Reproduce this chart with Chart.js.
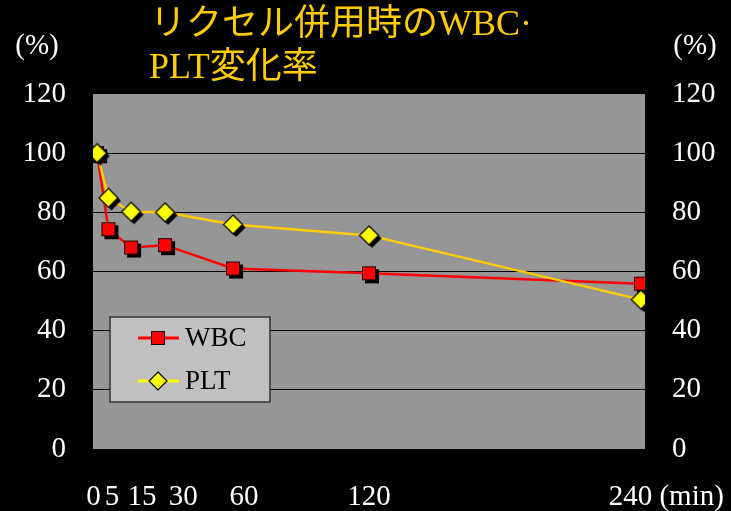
<!DOCTYPE html>
<html>
<head>
<meta charset="utf-8">
<script src="https://cdn.jsdelivr.net/npm/chart.js@4.4.0/dist/chart.umd.min.js"></script>
<style>
html, body { margin: 0; padding: 0; background: #000; }
#wrap { width: 731px; height: 511px; }
</style>
</head>
<body>
<div id="wrap"><canvas id="chart" width="731" height="511"></canvas></div>
<script>
// data
var minutes = [0, 5, 15, 30, 60, 120, 240];
var wbc = [100, 74.3, 68.1, 68.9, 61.0, 59.4, 55.9];
var plt = [100, 84.9, 80.2, 80.0, 75.9, 72.2, 50.5];
var seriesNames = ["WBC", "PLT"];
var yTicks = [0, 20, 40, 60, 80, 100, 120];
var xTickLabels = ["0", "5", "15", "30", "60", "120", "240 (min)"];
var titleLines = ["リクセル併用時のWBC·", "PLT変化率"];
var unitLabel = "(%)";

// label nudges (px) so the x labels sit like the original text row
var xLabelShift = [-3, 4, 11, 18, 9, 0, 24];
var SERIF = "'Liberation Serif', 'Times New Roman', serif";

function padLabel(txt, shift) {
  var n = Math.round(Math.abs(shift) / 3.6);
  var sp = new Array(n + 1).join(" ");
  return shift >= 0 ? sp + txt : txt + sp;
}

///Markers with a drop shadow
function squareMarker(size, off, fill, edge) {
  var c = document.createElement("canvas");
  var s = size + 2 * off + 2;
  c.width = s;
  c.height = s;
  var g = c.getContext("2d");
  var o = (s - size) / 2;
  g.fillStyle = "#000";
  g.fillRect(o + off, o + off, size, size);
  g.fillStyle = fill;
  g.fillRect(o, o, size, size);
  g.strokeStyle = edge;
  g.lineWidth = 1;
  g.strokeRect(o + 0.5, o + 0.5, size - 1, size - 1);
  return c;
}

function diamondPath(g, cx, cy, r) {
  g.beginPath();
  g.moveTo(cx, cy - r);
  g.lineTo(cx + r, cy);
  g.lineTo(cx, cy + r);
  g.lineTo(cx - r, cy);
  g.closePath();
}

function diamondMarker(r, off, fill, edge) {
  var c = document.createElement("canvas");
  var s = Math.ceil(2 * (r + off) + 2);
  c.width = s;
  c.height = s;
  var g = c.getContext("2d");
  var m = s / 2;
  g.fillStyle = "#000";
  diamondPath(g, m + off, m + off, r);
  g.fill();
  g.fillStyle = fill;
  diamondPath(g, m, m, r);
  g.fill();
  g.strokeStyle = edge;
  g.lineWidth = 1.2;
  g.stroke();
  return c;
}

var wbcMark = squareMarker(14, 3, "#FF0000", "#200000");
var pltMark = diamondMarker(9.5, 3, "#FFFF00", "#000");

///Background, title, units and legend
var decor = {
  id: "decor",
  beforeDraw: function (chart) {
    var ctx = chart.ctx;
    var a = chart.chartArea;
    ctx.save();
    ctx.fillStyle = "#000";
    ctx.fillRect(0, 0, chart.width, chart.height);
    ctx.fillStyle = "#969696";
    ctx.fillRect(a.left, a.top, a.right - a.left, a.bottom - a.top);
    ctx.restore();
  },
  afterDraw: function (chart) {
    var ctx = chart.ctx;
    var a = chart.chartArea;
    ctx.save();

    // title
    ctx.fillStyle = "#FFCC00";
    ctx.font = "36px " + SERIF + ", 'Noto Sans CJK JP'";
    ctx.textAlign = "left";
    ctx.textBaseline = "middle";
    ctx.fillText(titleLines[0], 150, 26);
    ctx.fillText(titleLines[1], 149, 69);

    // (%) above both axes
    ctx.fillStyle = "#fff";
    ctx.font = "29px " + SERIF;
    ctx.textAlign = "center";
    ctx.fillText(unitLabel, 37, 46);
    ctx.fillText(unitLabel, 695, 46);

    // legend box
    var bx = a.left + 17, by = a.top + 223, bw = 160, bh = 85;
    ctx.fillStyle = "#C0C0C0";
    ctx.fillRect(bx, by, bw, bh);
    ctx.strokeStyle = "#333";
    ctx.lineWidth = 1.5;
    ctx.strokeRect(bx, by, bw, bh);

    var rows = [by + 21, by + 64];
    chart.data.datasets.forEach(function (ds, i) {
      var y = rows[i];
      ctx.strokeStyle = i === 0 ? "#FF0000" : "#FFFF00";
      ctx.lineWidth = 3;
      ctx.beginPath();
      ctx.moveTo(bx + 28, y);
      ctx.lineTo(bx + 69, y);
      ctx.stroke();
      var cx = bx + 48;
      if (i === 0) {
        ctx.fillStyle = "#FF0000";
        ctx.fillRect(cx - 7, y - 7, 14, 14);
        ctx.strokeStyle = "#200000";
        ctx.lineWidth = 1;
        ctx.strokeRect(cx - 6.5, y - 6.5, 13, 13);
      } else {
        ctx.fillStyle = "#FFFF00";
        diamondPath(ctx, cx, y, 9);
        ctx.fill();
        ctx.strokeStyle = "#000";
        ctx.lineWidth = 1.2;
        ctx.stroke();
      }
      ctx.fillStyle = "#000";
      ctx.font = "27px " + SERIF;
      ctx.textAlign = "left";
      ctx.textBaseline = "middle";
      ctx.fillText(ds.label, bx + 75, y + 1);
    });
    ctx.restore();
  },
};

function toPoints(vals) {
  return minutes.map(function (m, i) {
    return { x: m, y: vals[i] };
  });
}

var tickFont = { family: SERIF, size: 29 };

var mychart = new Chart(document.getElementById("chart"), {
  type: "line",
  data: {
    datasets: [
      {
        label: seriesNames[0],
        data: toPoints(wbc),
        borderColor: "#FF0000",
        borderWidth: 2.5,
        pointStyle: wbcMark,
        pointRadius: 8,
        tension: 0,
        order: 1,
      },
      {
        label: seriesNames[1],
        data: toPoints(plt),
        borderColor: "#FFCC00",
        borderWidth: 2.5,
        pointStyle: pltMark,
        pointRadius: 9,
        tension: 0,
        order: 0,
      },
    ],
  },
  options: {
    responsive: false,
    animation: false,
    layout: { padding: { top: 94, left: 0, right: 0, bottom: 0 } },
    plugins: {
      legend: { display: false },
      tooltip: { enabled: false },
    },
    scales: {
      x: {
        type: "linear",
        min: -1.8,
        max: 241.8,
        afterBuildTicks: function (s) {
          s.ticks = minutes.map(function (v) {
            return { value: v };
          });
        },
        afterFit: function (s) {
          s.height = 62;
          s.paddingLeft = 0;
          s.paddingRight = 0;
        },
        grid: { display: false },
        border: { display: false },
        ticks: {
          color: "#fff",
          font: tickFont,
          padding: 23,
          autoSkip: false,
          maxRotation: 0,
          minRotation: 0,
          callback: function (v, i) {
            return padLabel(xTickLabels[i], xLabelShift[i]);
          },
        },
      },
      y: {
        position: "left",
        min: 0,
        max: 120,
        afterBuildTicks: function (s) {
          s.ticks = yTicks.map(function (v) {
            return { value: v };
          });
        },
        afterFit: function (s) {
          s.width = 93;
        },
        grid: {
          drawTicks: false,
          lineWidth: 1,
          color: function (c) {
            var v = c.tick ? c.tick.value : 0;
            return v === 0 || v === 120 ? "rgba(0,0,0,0)" : "#000";
          },
        },
        border: { display: false },
        ticks: { color: "#fff", font: tickFont, padding: 27 },
      },
      y2: {
        position: "right",
        min: 0,
        max: 120,
        afterBuildTicks: function (s) {
          s.ticks = yTicks.map(function (v) {
            return { value: v };
          });
        },
        afterFit: function (s) {
          s.width = 86;
        },
        grid: { display: false, drawTicks: false },
        border: { display: false },
        ticks: { color: "#fff", font: tickFont, padding: 27 },
      },
    },
  },
  plugins: [decor],
});
</script>
</body>
</html>
